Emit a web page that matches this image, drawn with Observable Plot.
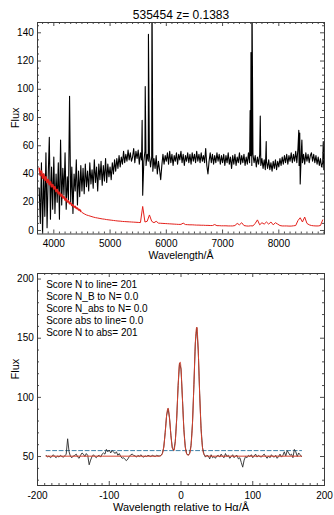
<!DOCTYPE html>
<html><head><meta charset="utf-8">
<script src="https://cdn.jsdelivr.net/npm/d3@7"></script>
<script src="https://cdn.jsdelivr.net/npm/@observablehq/plot@0.6"></script>
<style>
body{margin:0;background:#fff;}
#wrap{position:relative;width:334px;height:515px;overflow:hidden;}
#wrap svg{position:absolute;left:0;}
</style></head><body><div id="wrap"></div>
<script>
// ---------- top panel data ----------
const title = "535454 z= 0.1383";
const topXLabel = "Wavelength/Å";
const yLabel = "Flux";
const specStart = 3740, specStep = 20;
const specFlux = [
  30, 5, 48, -3, 40, 10, 55, 2, 38, 66, 8, 45, 15,
  52, 12, 40, 20, 48, 8, 64, 18, 44, 25, 55, 15, 38, 22, 95, 20, 45, 12, 40, 28, 50, 18, 42, 24, 46,
  28, 44, 26, 47, 31, 42, 28, 48, 33, 43, 30, 50, 34, 45, 28, 47, 36, 49, 32, 46, 35, 51, 34, 47, 38,
  45, 36, 48, 40, 50, 42, 51, 44, 53, 45, 52, 47, 56, 48, 54, 49, 57, 50, 55, 49,
  52, 58, 48, 56, 51, 57, 47, 55, 50, 25, 49, 56, 46, 54, 49, 53, 45, 52, 42, 51, 44, 53, 40, 49, 43, 36, 46, 54, 47, 53,
  49, 55, 47, 56, 48, 54, 46, 53, 49, 55, 47, 54, 50, 56, 48, 54, 46, 53, 49, 55, 48, 54, 47, 55, 49, 54, 48, 56, 49, 54,
  48, 55, 49, 53, 48, 58, 46, 40, 49, 55, 48, 54, 47, 53, 48, 55, 49, 54, 47, 53,
  48, 54, 46, 53, 48, 55, 47, 52, 44, 53, 47, 54, 46, 52, 48, 55, 47, 53, 48, 54, 46, 52, 47, 55, 48, 53, 46, 54, 48, 53,
  45, 52, 47, 54, 46, 51, 44, 50, 43, 49, 44, 50, 43, 48, 42, 49, 44, 50, 43, 49,
  45, 51, 46, 52, 47, 53, 48, 54, 47, 53, 49, 55, 48, 54, 49, 56, 48, 58, 46, 33, 56, 48, 54, 47, 55, 49, 54, 48, 53, 55,
  49, 54, 48, 53, 47, 52, 46, 51, 45, 48, 43
];
const spikeWave = [5570, 5625, 5682, 5745, 7490, 7505, 7522, 7670, 7776, 8355, 8372, 8410, 8790];
const spikeFlux = [78, 102, 139, 175, 85, 126, 175, 81, 63, 71, 69, 64, 63];
const errStartA = 3740, errStepA = 20;
const errFluxA = [44, 39, 42, 37, 40, 35.5, 38, 34, 36, 32.5, 34.5, 31, 32.5, 29.5, 31, 27.5, 29, 26, 27, 24.5,
  25.5, 23, 24, 21.5, 22.5, 20.2, 21, 19, 19.5, 17.8, 18.2, 16.6, 17, 15.6, 15.8, 14.6, 14.7, 13.6];
const errStartB = 4500, errStepB = 40;
const errFluxB = [12.8, 11.8, 11, 10.5, 10, 9.5, 9.1, 8.8, 8.5, 8.2,
  8, 7.7, 7.5, 7.3, 7.1, 6.9, 6.7, 6.6, 6.4, 6.3,
  6.2, 6.1, 6, 5.9, 5.8, 5.7, 5.6, 17, 6, 6.5,
  11, 6.5, 5.5, 6.5, 5.2, 5.1, 5, 4.9, 4.8, 4.7,
  4.6, 4.5, 4.4, 4.3, 4.3, 5.2, 4.2, 4.1, 4, 4,
  3.9, 3.8, 3.8, 3.7, 3.7, 3.6, 3.6, 3.5, 3.5, 4.2,
  3.4, 3.4, 3.3, 3.3, 3.3, 3.2, 3.2, 3.2, 3.5, 5,
  4, 5.5, 3.5, 3.2, 3.1, 3.3, 3.2, 5, 7.5, 4,
  5.5, 4.5, 6, 4.5, 6, 4, 5.5, 4.5, 3.5, 3.2,
  3.2, 3.2, 3.1, 3.1, 3.3, 3.5, 7, 9, 6, 9.5,
  5, 4, 3.5, 3.3, 3.2, 3.2, 3.5, 7.5];
const topXTicks = [4000, 5000, 6000, 7000, 8000];
const topYTicks = [0, 20, 40, 60, 80, 100, 120, 140];

// ---------- bottom panel data ----------
const botXLabel = "Wavelength relative to Hα/Å";
const haStart = -188, haStep = 2;
const haFlux = [
  51, 49.5, 50.5, 49, 50, 51.5, 50, 49, 50.5, 49.5,
  51, 50, 49.5, 50.5, 52, 65, 54, 50, 49, 50.5,
  51, 52, 49.5, 48.5, 51, 53, 52, 50, 52.5, 51,
  43, 47, 50, 51.5, 50, 49, 50.5, 51, 49.5, 52,
  53, 52, 56, 54, 55.5, 53, 55, 54, 52.5, 54,
  51, 52.5, 50, 48.5, 49, 47.5, 46.5, 48, 50, 51.5,
  52, 51, 50.5, 49.5, 51, 50, 51.5, 50, 49.5, 50.5,
  50, 51, 50.5, 50, 51, 50.5, 50, 51, 50.5, 50.5,
  50.9, 52.6, 58, 70.5, 85, 90.5, 82.5, 67.5, 57, 55.3,
  62.5, 82, 110, 129, 124, 99, 73, 58, 52.3, 51.2,
  52.7, 59.5, 78, 110.5, 146, 159, 140, 103.5, 73.5, 57.5,
  52, 49.5, 51, 50.5, 48, 51.5, 49, 50, 48.5, 50.5,
  51, 49.5, 52, 50, 49, 52.5, 50, 51, 48.5, 50,
  51.5, 49, 50.5, 51, 48, 49, 45, 41, 47, 50,
  49, 51, 50, 51.5, 49, 50.5, 52, 49.5, 51, 50,
  49.5, 51, 52, 50, 48.5, 50.5, 49, 51.5, 50, 49.5,
  51, 48.5, 50, 52, 49.5, 51, 54, 50.5, 55, 53,
  51, 52, 49, 56, 54, 50, 53, 51.5, 50
];
const fitX = [-188, -30, -28, -26, -24, -22, -20, -18, -16, -14, -12, -10, -8, -6, -4, -2, -1, 0, 2, 4, 6, 8, 10,
  12, 14, 16, 18, 20, 22, 24, 26, 28, 30, 32, 34, 36, 168];
const fitY = [50.3, 50.3, 50.7, 52.4, 58.1, 70.3, 84.9, 90.8, 82.3, 67.5, 57.1, 55.1, 62.7, 82.3, 110.0, 129.1, 129.7,
  123.8, 98.8, 73.0, 57.8, 52.1, 51.0, 52.5, 59.4, 78.0, 110.9, 146.1, 159.4, 140.0, 103.5, 73.1, 57.3, 51.9, 50.6, 50.3, 50.3];
const contX = [-188, 168];
const contY = [55, 55];
const botXTicks = [-200, -100, 0, 100, 200];
const botYTicks = [50, 100, 150, 200];
const scoreLines = ["Score N to line= 201", "Score N_B to N= 0.0", "Score N_abs to N= 0.0", "Score abs to line= 0.0", "Score N to abs= 201"];

// ---------- helpers ----------
const FONT = "'Liberation Sans', Arial, Helvetica, sans-serif";
const FRAME = "#3a3a3a";
const W = 334, ML = 37, MR = 10;
const IW = W - ML - MR;

function boxTicks(xMaj, xMin, yMaj, yMin, IH) {
  const o = {stroke: FRAME, strokeWidth: 0.9};
  return [
    Plot.tickX(xMaj, {...o, x: d => d, insetTop: IH - 4}),
    Plot.tickX(xMaj, {...o, x: d => d, insetBottom: IH - 4}),
    Plot.tickX(xMin, {...o, x: d => d, insetTop: IH - 2}),
    Plot.tickX(xMin, {...o, x: d => d, insetBottom: IH - 2}),
    Plot.tickY(yMaj, {...o, y: d => d, insetRight: IW - 4}),
    Plot.tickY(yMaj, {...o, y: d => d, insetLeft: IW - 4}),
    Plot.tickY(yMin, {...o, y: d => d, insetRight: IW - 2}),
    Plot.tickY(yMin, {...o, y: d => d, insetLeft: IW - 2}),
    Plot.frame({stroke: FRAME, strokeWidth: 1})
  ];
}

// ---------- top chart ----------
const specPts = specFlux.map((f, i) => ({w: specStart + i * specStep, f}))
  .concat(spikeWave.map((w, i) => ({w, f: spikeFlux[i]})))
  .sort((a, b) => a.w - b.w);
const errA = errFluxA.map((f, i) => ({w: errStartA + i * errStepA, f}));
const errB = errFluxB.map((f, i) => ({w: errStartB + i * errStepB, f}));

const H1 = 262, MT1 = 22, MB1 = 28.5, IH1 = H1 - MT1 - MB1;
const xDom1 = [3710, 8812], yDom1 = [-2.5, 147.3];
const topMinX = d3.range(3800, 8801, 100).filter(v => v % 1000 !== 0);
const topMinY = d3.range(0, 146, 5).filter(v => v % 20 !== 0);

const topChart = Plot.plot({
  width: W, height: H1, marginLeft: ML, marginRight: MR, marginTop: MT1, marginBottom: MB1,
  x: {domain: xDom1, axis: null},
  y: {domain: yDom1, axis: null},
  style: {fontFamily: FONT, background: "transparent", overflow: "visible"},
  marks: [
    Plot.line(specPts, {x: "w", y: "f", stroke: "#000", strokeWidth: 1.1, clip: true}),
    Plot.line(errA, {x: "w", y: "f", stroke: "#e3201b", strokeWidth: 1.7, clip: true}),
    Plot.line(errB, {x: "w", y: "f", stroke: "#e3201b", strokeWidth: 1, clip: true}),
    ...boxTicks(topXTicks, topMinX, topYTicks, topMinY, IH1),
    Plot.text(topXTicks, {x: d => d, text: d => String(d), frameAnchor: "bottom", dy: 10.2, fontSize: 10, fill: "#000", lineAnchor: "middle"}),
    Plot.text(topYTicks, {y: d => d, text: d => String(d), frameAnchor: "left", dx: -3.7, textAnchor: "end", fontSize: 10, fill: "#000", lineAnchor: "middle"}),
    Plot.text([topXLabel], {text: d => d, frameAnchor: "bottom", dy: 22, fontSize: 10.5, fill: "#000", lineAnchor: "middle"}),
    Plot.text([yLabel], {text: d => d, frameAnchor: "left", dx: -22, rotate: -90, fontSize: 11, fill: "#000", lineAnchor: "middle"}),
    Plot.text([title], {text: d => d, frameAnchor: "top", dy: -7.5, fontSize: 12, fill: "#000", lineAnchor: "middle"})
  ]
});
topChart.style.top = "0px";

// ---------- bottom chart ----------
const haPts = haFlux.map((f, i) => ({x: haStart + i * haStep, f}));
const fitPts = fitX.map((x, i) => ({x, f: fitY[i]}));
const contPts = contX.map((x, i) => ({x, f: contY[i]}));

const H2 = 253, MT2 = 11, MB2 = 30, IH2 = H2 - MT2 - MB2;
const xDom2 = [-200, 200], yDom2 = [25.5, 204.7];
const botMinX = d3.range(-190, 200, 10).filter(v => v % 100 !== 0);
const botMinY = d3.range(30, 204, 10).filter(v => v % 50 !== 0);

const botChart = Plot.plot({
  width: W, height: H2, marginLeft: ML, marginRight: MR, marginTop: MT2, marginBottom: MB2,
  x: {domain: xDom2, axis: null},
  y: {domain: yDom2, axis: null},
  style: {fontFamily: FONT, background: "transparent", overflow: "visible"},
  marks: [
    Plot.line(contPts, {x: "x", y: "f", stroke: "#3d7fa6", strokeWidth: 1, strokeDasharray: "4,2.5"}),
    Plot.line(haPts, {x: "x", y: "f", stroke: "#2a2a2a", strokeWidth: 0.9, clip: true}),
    Plot.line(fitPts, {x: "x", y: "f", stroke: "#d4402c", strokeWidth: 1, curve: "monotone-x", clip: true}),
    ...boxTicks(botXTicks, botMinX, botYTicks, botMinY, IH2),
    Plot.text(botXTicks, {x: d => d, text: d => String(d), frameAnchor: "bottom", dy: 10.5, fontSize: 10, fill: "#000", lineAnchor: "middle"}),
    Plot.text(botYTicks, {y: d => d, text: d => String(d), frameAnchor: "left", dx: -3.7, textAnchor: "end", fontSize: 10, fill: "#000", lineAnchor: "middle"}),
    Plot.text([botXLabel], {text: d => d, frameAnchor: "bottom", dy: 22, fontSize: 11, fill: "#000", lineAnchor: "middle"}),
    Plot.text([yLabel], {text: d => d, frameAnchor: "left", dx: -22, rotate: -90, fontSize: 11, fill: "#000", lineAnchor: "middle"}),
    Plot.text([scoreLines.join("\n")], {text: d => d, frameAnchor: "top-left", dx: 8.7, dy: 6.3, textAnchor: "start", lineAnchor: "top", lineHeight: 1.19, fontSize: 10, fill: "#000"})
  ]
});
botChart.style.top = "262px";

const wrap = document.getElementById("wrap");
wrap.appendChild(topChart);
wrap.appendChild(botChart);
</script></body></html>
